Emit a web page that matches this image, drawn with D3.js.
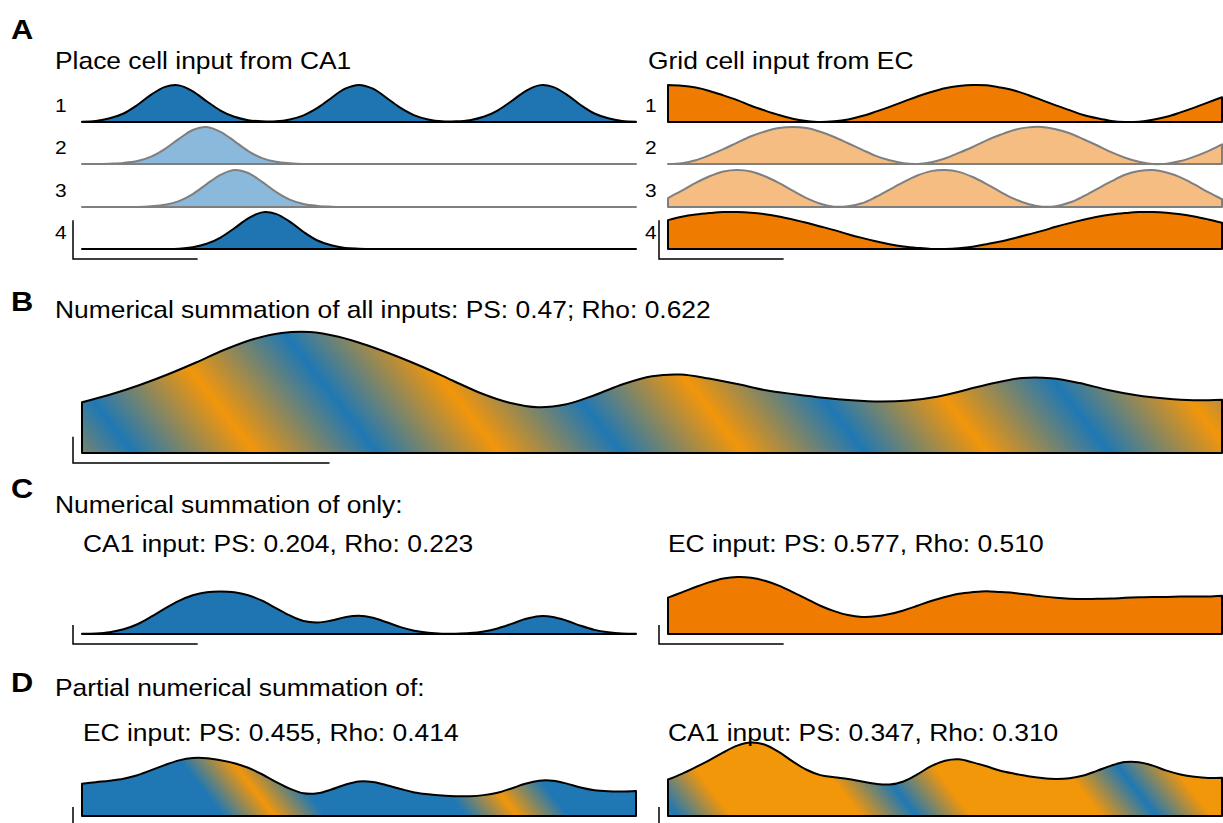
<!DOCTYPE html>
<html lang="en">
<head>
<meta charset="UTF-8">
<title>Summation of place and grid cell inputs</title>
<script src="https://d3js.org/d3.v7.min.js"></script>
<style>
  body { margin: 0; background: #fff; }
  svg { display: block; font-family: Arial, "Liberation Sans", sans-serif; }
  text { fill: #000; }
</style>
</head>
<body>
<div id="chart"></div>
<script>
// sample positions along the track (% of track length)
const trackPos = [0, 2.5, 5, 7.5, 10, 12.5, 15, 17.5, 20, 22.5, 25, 27.5, 30, 32.5, 35, 37.5, 40, 42.5, 45, 47.5, 50,
  52.5, 55, 57.5, 60, 62.5, 65, 67.5, 70, 72.5, 75, 77.5, 80, 82.5, 85, 87.5, 90, 92.5, 95, 97.5, 100];

// A: single inputs (normalised rate)
const ca1Row1 = [0.01,0.03,0.10,0.23,0.46,0.74,0.95,0.99,0.83,0.56,0.31,0.14,0.05,0.02,0.02,0.07,0.18,0.38,0.65,0.90,1.00,0.90,0.65,0.38,0.18,0.07,0.02,0.02,0.05,0.14,0.31,0.56,0.83,0.99,0.95,0.74,0.46,0.23,0.10,0.03,0.01];
const ca1Row2 = [0,0,0.01,0.03,0.08,0.20,0.41,0.68,0.92,1.00,0.87,0.62,0.35,0.16,0.06,0.02,0,0,0,0,0,0,0,0,0,0,0,0,0,0,0,0,0,0,0,0,0,0,0,0,0];
const ca1Row3 = [0,0,0,0,0,0.02,0.06,0.16,0.35,0.62,0.87,1.00,0.92,0.68,0.41,0.20,0.08,0.03,0.01,0,0,0,0,0,0,0,0,0,0,0,0,0,0,0,0,0,0,0,0,0,0];
const ca1Row4 = [0,0,0,0,0,0,0,0.01,0.05,0.14,0.31,0.56,0.83,0.99,0.95,0.74,0.46,0.23,0.10,0.03,0.01,0,0,0,0,0,0,0,0,0,0,0,0,0,0,0,0,0,0,0,0];
const ecRow1 = [1.00,0.98,0.93,0.84,0.72,0.59,0.44,0.31,0.19,0.09,0.03,0.00,0.02,0.07,0.16,0.28,0.41,0.55,0.69,0.81,0.91,0.97,1.00,0.99,0.93,0.85,0.73,0.59,0.45,0.32,0.19,0.10,0.03,0.00,0.01,0.06,0.14,0.26,0.39,0.53,0.67];
const ecRow2 = [0.00,0.02,0.10,0.24,0.40,0.58,0.75,0.88,0.97,1.00,0.97,0.87,0.73,0.56,0.39,0.22,0.10,0.02,0.00,0.05,0.15,0.30,0.46,0.64,0.79,0.92,0.99,1.00,0.94,0.83,0.67,0.50,0.32,0.17,0.06,0.00,0.01,0.08,0.20,0.35,0.53];
const ecRow3 = [0.24,0.44,0.65,0.83,0.96,1.00,0.96,0.83,0.65,0.44,0.24,0.09,0.01,0.02,0.10,0.27,0.47,0.67,0.85,0.97,1.00,0.95,0.81,0.62,0.41,0.22,0.08,0.01,0.02,0.12,0.29,0.49,0.69,0.87,0.97,1.00,0.93,0.80,0.61,0.40,0.21];
const ecRow4 = [0.78,0.87,0.93,0.97,1.00,1.00,0.98,0.94,0.88,0.80,0.71,0.61,0.51,0.40,0.30,0.21,0.13,0.07,0.03,0.00,0.00,0.02,0.06,0.13,0.20,0.29,0.39,0.49,0.60,0.70,0.79,0.87,0.93,0.97,1.00,1.00,0.98,0.94,0.88,0.80,0.71];

// B: all inputs summed
const sumAll = [2.03,2.34,2.71,3.14,3.62,4.13,4.55,4.80,4.84,4.65,4.31,3.89,3.42,2.90,2.39,2.01,1.83,1.95,2.32,2.76,3.07,3.14,2.98,2.76,2.51,2.35,2.21,2.11,2.06,2.10,2.25,2.52,2.80,3.00,2.99,2.80,2.52,2.31,2.18,2.11,2.13];
// C: only one input type
const sumCA1 = [0.01,0.03,0.10,0.26,0.54,0.96,1.42,1.84,2.15,2.32,2.36,2.32,2.15,1.85,1.44,1.03,0.72,0.64,0.75,0.93,1.01,0.90,0.65,0.38,0.18,0.07,0.02,0.02,0.05,0.14,0.31,0.56,0.83,0.99,0.95,0.74,0.46,0.23,0.10,0.03,0.01];
const sumEC = [2.02,2.31,2.61,2.88,3.08,3.17,3.13,2.96,2.69,2.33,1.95,1.57,1.27,1.05,0.95,0.98,1.11,1.31,1.57,1.83,2.06,2.24,2.33,2.38,2.33,2.28,2.19,2.09,2.01,1.96,1.94,1.96,1.97,2.01,2.04,2.06,2.06,2.08,2.08,2.08,2.12];
// D: partial summation
const partialEC = [1.79,1.88,1.96,2.07,2.26,2.55,2.84,3.09,3.22,3.21,3.10,2.93,2.68,2.32,1.90,1.52,1.26,1.26,1.47,1.74,1.92,1.89,1.71,1.50,1.31,1.21,1.14,1.10,1.10,1.16,1.29,1.53,1.79,1.96,1.96,1.80,1.58,1.43,1.37,1.36,1.39];
const partialCA1 = [2.03,2.34,2.71,3.11,3.54,3.91,4.08,3.96,3.56,3.03,2.57,2.27,2.15,2.06,1.92,1.79,1.75,1.92,2.31,2.77,3.07,3.15,2.98,2.76,2.51,2.35,2.21,2.11,2.06,2.10,2.25,2.52,2.80,3.00,2.99,2.80,2.52,2.31,2.18,2.11,2.13];

const rowLabels = ["1", "2", "3", "4"];
const panelLetters = ["A", "B", "C", "D"];
const titlesA = ["Place cell input from CA1", "Grid cell input from EC"];
const titleB = "Numerical summation of all inputs: PS: 0.47; Rho: 0.622";
const titleC = "Numerical summation of only:";
const subtitlesC = ["CA1 input: PS: 0.204, Rho: 0.223", "EC input: PS: 0.577, Rho: 0.510"];
const titleD = "Partial numerical summation of:";
const subtitlesD = ["EC input: PS: 0.455, Rho: 0.414", "CA1 input: PS: 0.347, Rho: 0.310"];
const scaleBarX = 22.5;   // % of track
const scaleBarY = 1.05;   // rate units

// colours
const blue = "#1f74b2", lightBlue = "#8ab9dc", orange = "#ef7b00", lightOrange = "#f6bd83";
const mixBlue = "#1f78b4", mixOrange = "#f2960a";
const stretch = 1.1;  // the figure text is slightly widened

const svg = d3.select("#chart").append("svg")
  .attr("width", 1223)
  .attr("height", 823);
const defs = svg.append("defs");

const xLeft = d3.scaleLinear().domain([0, 100]).range([82, 636]);
const xRight = d3.scaleLinear().domain([0, 100]).range([668, 1222]);
const xFull = d3.scaleLinear().domain([0, 100]).range([82, 1222]);

// diagonal blue/orange stripes, slope of stripes dx/dy = k
function stripes(id, s0, period, stops) {
  const k = 0.78, f = period / (1 + k * k);
  const g = defs.append("linearGradient")
    .attr("id", id)
    .attr("gradientUnits", "userSpaceOnUse")
    .attr("spreadMethod", "repeat")
    .attr("x1", s0).attr("y1", 0)
    .attr("x2", s0 + f).attr("y2", -k * f);
  g.selectAll("stop").data(stops).join("stop")
    .attr("offset", d => d[0])
    .attr("stop-color", d => d[1]);
  return `url(#${id})`;
}
const fillB = stripes("mixB", 24, 244, [[0, mixBlue], [0.5, mixOrange], [1, mixBlue]]);
const fillDl = stripes("mixDl", 2.5, 243, [[0, mixBlue], [0.29, mixBlue], [0.5, mixOrange], [0.71, mixBlue], [1, mixBlue]]);
const fillDr = stripes("mixDr", 40, 240, [[0, mixBlue], [0.23, mixOrange], [0.77, mixOrange], [1, mixBlue]]);

function trace(x, base, unit, values, fill, stroke) {
  const y = d3.scaleLinear().domain([0, 1]).range([base, base - unit]);
  const area = d3.area()
    .x((d, i) => x(trackPos[i]))
    .y0(base)
    .y1(d => Math.min(base, y(d)))
    .curve(d3.curveCatmullRom.alpha(0.5));
  svg.append("path")
    .datum(values)
    .attr("d", area)
    .attr("fill", fill)
    .attr("stroke", stroke)
    .attr("stroke-width", 2)
    .attr("stroke-linejoin", "round");
  return y;
}

function scaleBar(x, y, base) {
  const x0 = x(0) - 9, y0 = base + 10;
  const h = y(0) - y(scaleBarY);
  const w = x(scaleBarX) - x(0);
  svg.append("path")
    .attr("d", `M${x0},${y0 - h}V${y0}H${x0 + w}`)
    .attr("fill", "none")
    .attr("stroke", "#000")
    .attr("stroke-width", 1.5);
}

function label(x, y, str, size, weight) {
  svg.append("text")
    .attr("transform", `translate(${x},${y}) scale(${stretch},1)`)
    .attr("font-size", size)
    .attr("font-weight", weight || "normal")
    .text(str);
}

// ---- A ----
const rowBase = [122, 164, 207, 249];
const ca1Rows = [ca1Row1, ca1Row2, ca1Row3, ca1Row4];
const ecRows = [ecRow1, ecRow2, ecRow3, ecRow4];
let yA;
ca1Rows.forEach((r, i) => {
  const faded = i === 1 || i === 2;
  yA = trace(xLeft, rowBase[i], 37, r, faded ? lightBlue : blue, faded ? "#7f7f7f" : "#000");
});
ecRows.forEach((r, i) => {
  const faded = i === 1 || i === 2;
  trace(xRight, rowBase[i], 37, r, faded ? lightOrange : orange, faded ? "#7f7f7f" : "#000");
});
rowLabels.forEach((t, i) => {
  label(55, rowBase[i] - 10, t, 19);
  label(645, rowBase[i] - 10, t, 19);
});
scaleBar(xLeft, yA, rowBase[3]);
scaleBar(xRight, yA, rowBase[3]);
label(11, 39, panelLetters[0], 28, "bold");
label(55, 69, titlesA[0], 24);
label(648, 69, titlesA[1], 24);

// ---- B ----
const yB = trace(xFull, 453, 25, sumAll, fillB, "#000");
scaleBar(xFull, yB, 453);
label(11, 311, panelLetters[1], 28, "bold");
label(55, 318, titleB, 24);

// ---- C ----
const yCl = trace(xLeft, 634, 18, sumCA1, blue, "#000");
trace(xRight, 634, 18, sumEC, orange, "#000");
scaleBar(xLeft, yCl, 634);
scaleBar(xRight, yCl, 634);
label(11, 498, panelLetters[2], 28, "bold");
label(55, 513, titleC, 24);
label(83, 552, subtitlesC[0], 24);
label(668, 552, subtitlesC[1], 24);

// ---- D ----
const yDl = trace(xLeft, 816, 18, partialEC, fillDl, "#000");
trace(xRight, 816, 18, partialCA1, fillDr, "#000");
scaleBar(xLeft, yDl, 816);
scaleBar(xRight, yDl, 816);
label(11, 692, panelLetters[3], 28, "bold");
label(55, 696, titleD, 24);
label(83, 741, subtitlesD[0], 24);
label(668, 741, subtitlesD[1], 24);
</script>
</body>
</html>
